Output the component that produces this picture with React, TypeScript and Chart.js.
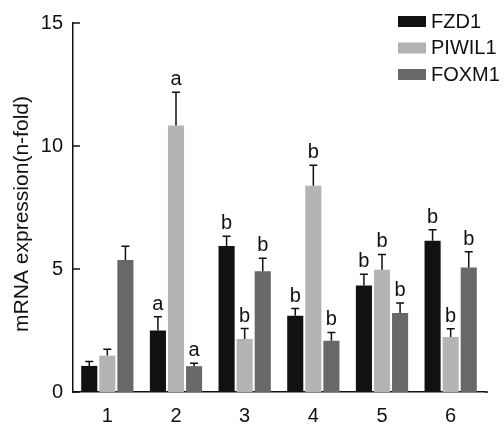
import React, { useEffect, useRef } from "react";
import { Chart, registerables } from "chart.js";

Chart.register(...registerables);

const categories = ["1", "2", "3", "4", "5", "6"];
const seriesNames = ["FZD1", "PIWIL1", "FOXM1"];
const fzd1 = [1.06, 2.5, 5.93, 3.1, 4.33, 6.15];
const piwil1 = [1.48, 10.83, 2.15, 8.38, 4.97, 2.24];
const foxm1 = [5.37, 1.05, 4.91, 2.08, 3.21, 5.06];
const fzd1Err = [0.18, 0.56, 0.4, 0.29, 0.46, 0.45];
const piwil1Err = [0.26, 1.36, 0.43, 0.84, 0.62, 0.33];
const foxm1Err = [0.55, 0.12, 0.53, 0.34, 0.41, 0.64];
const fzd1Letters = ["", "a", "b", "b", "b", "b"];
const piwil1Letters = ["", "a", "b", "b", "b", "b"];
const foxm1Letters = ["", "a", "b", "b", "b", "b"];
const yTicks = [0, 5, 10, 15];
const yTitle = "mRNA expression(n-fold)";

const colors = ["#111111", "#b4b4b4", "#686868"];
const FONT = "'Liberation Sans', Arial, Helvetica, sans-serif";

export default function App() {
  const ref = useRef<HTMLCanvasElement | null>(null);

  useEffect(() => {
    if (!ref.current) return;
    const values = [fzd1, piwil1, foxm1];
    const errs = [fzd1Err, piwil1Err, foxm1Err];
    const letters = [fzd1Letters, piwil1Letters, foxm1Letters];

    const overlay = {
      id: "overlay",
      afterDatasetsDraw(chart: any) {
        const ctx = chart.ctx;
        const y = chart.scales.y;
        const area = chart.chartArea;
        ctx.save();
        // inward y ticks
        ctx.strokeStyle = "#111";
        ctx.lineWidth = 1.5;
        yTicks.forEach((t) => {
          const py = y.getPixelForValue(t);
          ctx.beginPath();
          ctx.moveTo(area.left, py);
          ctx.lineTo(area.left + 7, py);
          ctx.stroke();
        });
        // x axis extension
        const px0 = y.getPixelForValue(0);
        ctx.beginPath();
        ctx.moveTo(area.right, px0);
        ctx.lineTo(area.right + 3, px0);
        ctx.stroke();
        // error bars and letters
        values.forEach((vals, di) => {
          const meta = chart.getDatasetMeta(di);
          vals.forEach((v, i) => {
            const bar = meta.data[i];
            const x = bar.x;
            const top = y.getPixelForValue(v);
            const et = y.getPixelForValue(v + errs[di][i]);
            ctx.strokeStyle = "#111";
            ctx.lineWidth = 1.5;
            ctx.beginPath();
            ctx.moveTo(x, top);
            ctx.lineTo(x, et);
            ctx.moveTo(x - 4, et);
            ctx.lineTo(x + 4, et);
            ctx.stroke();
            const l = letters[di][i];
            if (l) {
              ctx.fillStyle = "#111";
              ctx.font = `20px ${FONT}`;
              ctx.textAlign = "center";
              ctx.textBaseline = "alphabetic";
              ctx.fillText(l, x, et - 7);
            }
          });
        });
        // legend
        ctx.font = `20px ${FONT}`;
        ctx.textAlign = "left";
        ctx.textBaseline = "middle";
        seriesNames.forEach((n, i) => {
          const by = 16 + i * 26.5;
          ctx.fillStyle = colors[i];
          ctx.fillRect(398, by, 28, 11);
          ctx.fillStyle = "#111";
          ctx.fillText(n, 431, by + 6);
        });
        // y title
        ctx.save();
        ctx.translate(22, 214);
        ctx.rotate(-Math.PI / 2);
        ctx.font = `20px ${FONT}`;
        const w = ctx.measureText(yTitle).width;
        ctx.scale(236 / w, 1);
        ctx.textAlign = "center";
        ctx.textBaseline = "middle";
        ctx.fillStyle = "#111";
        ctx.fillText(yTitle, 0, 0);
        ctx.restore();
        ctx.restore();
      },
    };

    const chart = new Chart(ref.current, {
      type: "bar",
      data: {
        labels: categories,
        datasets: seriesNames.map((n, i) => ({
          label: n,
          data: values[i],
          backgroundColor: colors[i],
          borderWidth: 0,
          categoryPercentage: 0.79,
          barPercentage: 0.89,
        })),
      },
      options: {
        animation: false,
        responsive: false,
        maintainAspectRatio: false,
        layout: { padding: { top: 23, right: 19, left: 0, bottom: 0 } },
        plugins: {
          legend: { display: false },
          tooltip: { enabled: false },
        },
        scales: {
          x: {
            grid: { display: false, drawTicks: false },
            border: { display: true, color: "#111", width: 1.5 },
            ticks: { color: "#111", font: { size: 20, family: FONT }, padding: 12 },
            afterFit: (s: any) => {
              s.height = 33;
            },
          },
          y: {
            min: 0,
            max: 15,
            grid: { display: false, drawTicks: false },
            border: { display: true, color: "#111", width: 1.5 },
            ticks: {
              stepSize: 5,
              color: "#111",
              font: { size: 20, family: FONT },
              padding: 10,
            },
            afterFit: (s: any) => {
              s.width = 73;
            },
          },
        },
      },
      plugins: [overlay],
    });
    return () => chart.destroy();
  }, []);

  return (
    <div style={{ position: "fixed", left: 0, top: 0, width: 504, height: 425, background: "#fff" }}>
      <canvas ref={ref} width={504} height={425} style={{ width: 504, height: 425 }} />
    </div>
  );
}
